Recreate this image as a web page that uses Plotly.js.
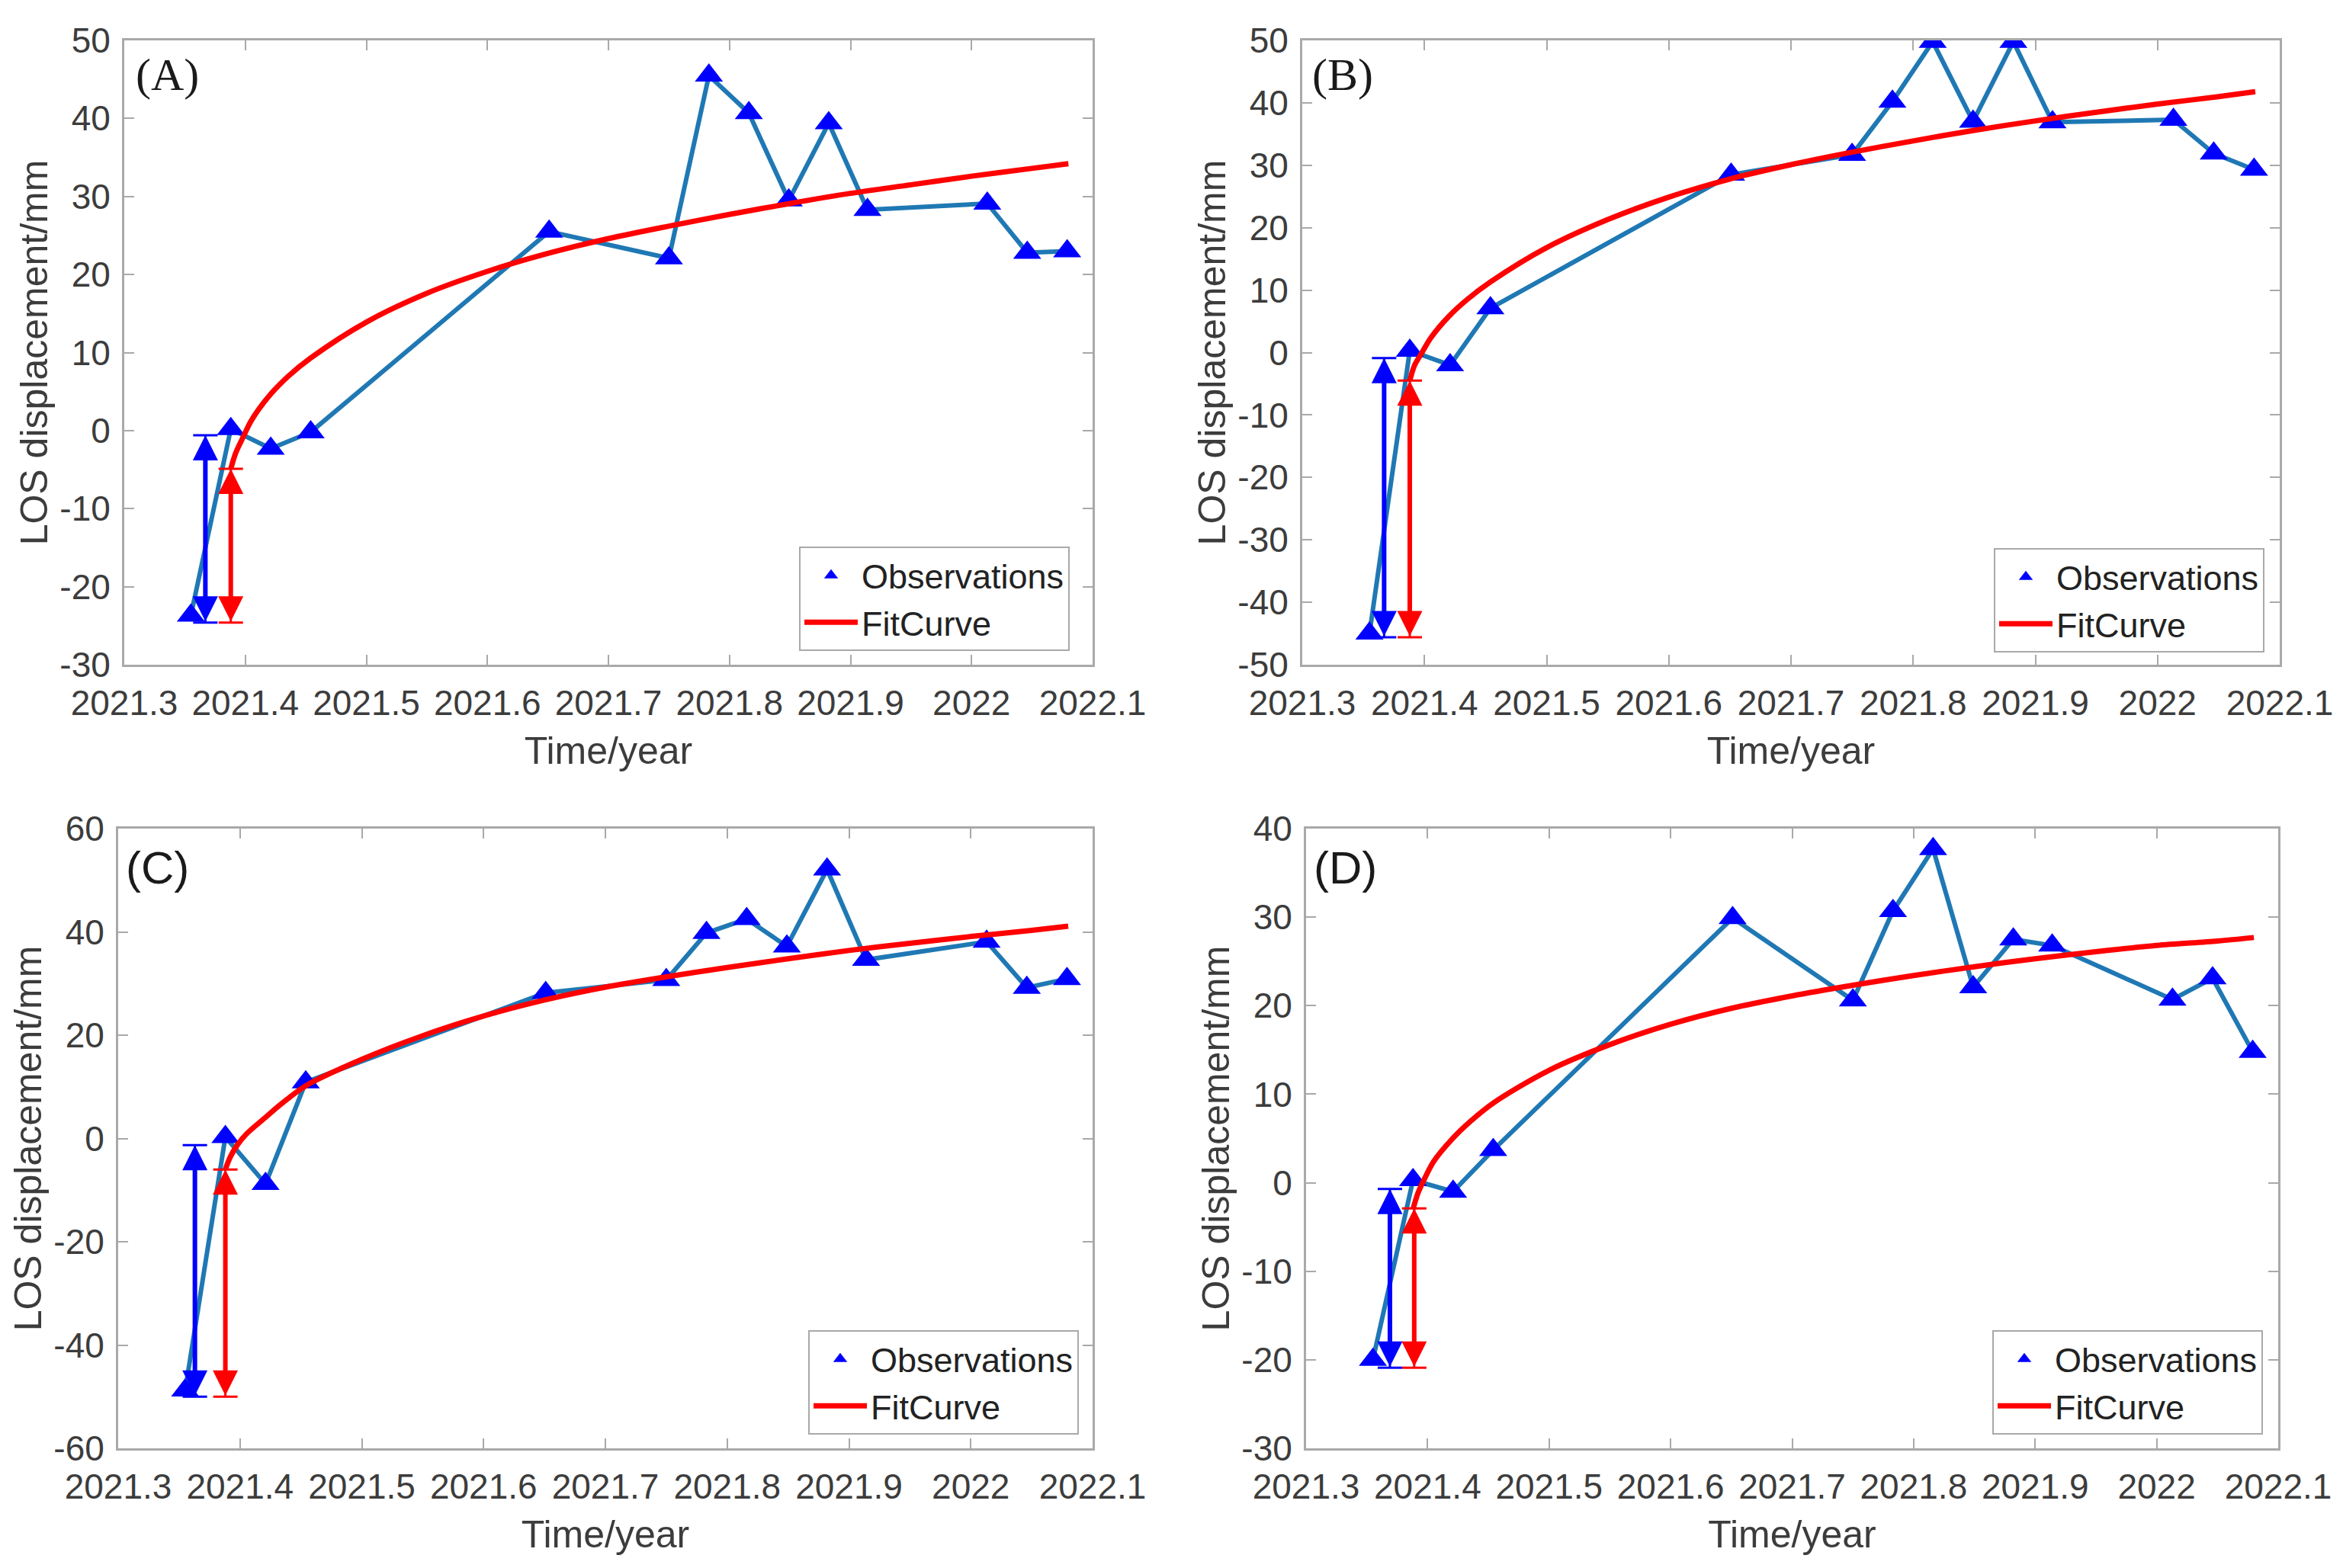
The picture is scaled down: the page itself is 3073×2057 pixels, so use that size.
<!DOCTYPE html>
<html>
<head>
<meta charset="utf-8">
<script src="https://cdn.plot.ly/plotly-3.0.1.min.js"></script>
<style>
  html, body { margin: 0; padding: 0; background: #ffffff; }
  #chart { width: 3073px; height: 2057px; }
</style>
</head>
<body>
<div id="chart"></div>
<script>
// ---------------- data ----------------
const panelLabels = ['(A)', '(B)', '(C)', '(D)'];

const timeYear = [2021.355, 2021.388, 2021.421, 2021.454, 2021.651, 2021.750, 2021.783,
                  2021.816, 2021.849, 2021.882, 2021.914, 2022.013, 2022.046, 2022.079];

const obsA = [-23.7, 0.2, -2.3, -0.2, 25.5, 22.1, 45.5, 40.7, 29.5, 39.4, 28.3, 29.1, 22.8, 23.0];
const obsB = [-45.0, 0.3, -2.0, 7.1, 28.5, 31.7, 40.2, 49.8, 37.0, 49.8, 36.9, 37.3, 31.9, 29.3];
const obsC = [-48.8, 0.3, -8.8, 10.9, 28.2, 30.7, 39.8, 42.5, 37.2, 52.1, 34.6, 38.1, 29.2, 30.9];
const obsD = [-20.0, 0.3, -1.0, 3.7, 29.9, 20.6, 30.7, 37.7, 22.1, 27.5, 26.8, 20.7, 23.1, 14.8];

const fitTime = [2021.388, 2021.392, 2021.398, 2021.405, 2021.420, 2021.435, 2021.454, 2021.500,
                 2021.550, 2021.600, 2021.650, 2021.700, 2021.750, 2021.800, 2021.850, 2021.900,
                 2021.950, 2022.000, 2022.050, 2022.080];

const fitA = [-4.9, -2.9, -0.9, 1.3, 4.5, 6.9, 9.3, 13.9, 17.6, 20.4, 22.7, 24.6, 26.2, 27.7, 29.1, 30.4, 31.5, 32.6, 33.6, 34.2];
const fitB = [-4.5, -2.0, 0.0, 2.3, 5.8, 8.5, 11.3, 16.8, 21.3, 24.9, 27.8, 30.1, 32.1, 33.9, 35.6, 37.1, 38.5, 39.8, 41.0, 41.8];
const fitC = [-6.0, -3.6, -1.2, 0.8, 3.9, 6.9, 10.2, 15.3, 19.9, 23.7, 26.8, 29.3, 31.3, 33.1, 34.8, 36.4, 37.8, 39.1, 40.3, 41.1];
const fitD = [-3.0, -1.2, 0.6, 2.4, 4.9, 6.9, 9.0, 12.7, 15.6, 17.9, 19.7, 21.1, 22.3, 23.4, 24.4, 25.3, 26.1, 26.8, 27.3, 27.7];

// vertical double arrows (blue and red) near the first acquisitions
const blueArrowX      = [2021.367, 2021.367, 2021.363, 2021.369];
const blueArrowTop    = [-0.6, -0.9, -1.3, -0.7];
const blueArrowBottom = [-24.6, -45.6, -50.0, -20.9];
const redArrowX       = [2021.388, 2021.388, 2021.388, 2021.389];
const redArrowTop     = [-4.9, -4.5, -6.0, -2.9];
const redArrowBottom  = [-24.6, -45.6, -50.0, -20.9];

const xTickVals = [2021.3, 2021.4, 2021.5, 2021.6, 2021.7, 2021.8, 2021.9, 2022.0, 2022.1];
const xTickText = ['2021.3', '2021.4', '2021.5', '2021.6', '2021.7', '2021.8', '2021.9', '2022', '2022.1'];

const yTickValsA = [-30, -20, -10, 0, 10, 20, 30, 40, 50];
const yTickValsB = [-50, -40, -30, -20, -10, 0, 10, 20, 30, 40, 50];
const yTickValsC = [-60, -40, -20, 0, 20, 40, 60];
const yTickValsD = [-30, -20, -10, 0, 10, 20, 30, 40];

const xTitle = 'Time/year';
const yTitle = 'LOS displacement/mm';
const obsName = 'Observations';
const fitName = 'FitCurve';

// ---------------- layout geometry (page pixels -> paper fractions) ----------------
const W = 3073, H = 2057;
const boxes = [
  {l: 163,  r: 1433, t: 53,   b: 872},
  {l: 1708, r: 2990, t: 53,   b: 872},
  {l: 155,  r: 1433, t: 1087, b: 1900},
  {l: 1713, r: 2988, t: 1087, b: 1900}
];
const legendPos = [
  {r: 1403, b: 854}, {r: 2970, b: 856}, {r: 1415, b: 1882}, {r: 2968, b: 1882}
];
const labelPos = [
  {x: 176, y: 98, serif: true}, {x: 1719, y: 98, serif: true},
  {x: 163, y: 1138, serif: false}, {x: 1721, y: 1138, serif: false}
];

const obsSets = [obsA, obsB, obsC, obsD];
const fitSets = [fitA, fitB, fitC, fitD];
const yTickSets = [yTickValsA, yTickValsB, yTickValsC, yTickValsD];

const AXIS_GREY = '#a9a9a9';
const TEXT_GREY = '#3c3c3c';
const SANS = 'Liberation Sans, Arial, Helvetica, sans-serif';
const SERIF = 'Liberation Serif, Times New Roman, serif';

const traces = [];
const layout = {
  width: W, height: H,
  margin: {l: 0, r: 0, t: 0, b: 0, pad: 0},
  paper_bgcolor: '#ffffff',
  plot_bgcolor: '#ffffff',
  showlegend: true,
  annotations: [],
  font: {family: SANS, color: TEXT_GREY}
};

function axisBase() {
  return {
    showline: true, linecolor: AXIS_GREY, linewidth: 3, mirror: 'ticks',
    ticks: 'inside', ticklen: 13, tickwidth: 2, tickcolor: AXIS_GREY,
    showgrid: false, zeroline: false, fixedrange: true,
    tickfont: {family: SANS, size: 46, color: TEXT_GREY}
  };
}

for (let i = 0; i < 4; i++) {
  const n = i === 0 ? '' : String(i + 1);
  const xa = 'x' + n, ya = 'y' + n;
  const legendId = 'legend' + n;
  const bx = boxes[i];
  const yt = yTickSets[i];

  const xax = axisBase();
  Object.assign(xax, {
    domain: [bx.l / W, bx.r / W],
    range: [2021.3, 2022.1],
    tickmode: 'array', tickvals: xTickVals, ticktext: xTickText,
    anchor: ya,
    ticklabelstandoff: 8,
    title: {text: xTitle, font: {family: SANS, size: 50, color: TEXT_GREY}, standoff: 20}
  });
  const yax = axisBase();
  Object.assign(yax, {
    domain: [1 - bx.b / H, 1 - bx.t / H],
    range: [yt[0], yt[yt.length - 1]],
    tickmode: 'array', tickvals: yt, ticktext: yt.map(v => String(v)),
    anchor: xa,
    ticklabelstandoff: 6,
    title: {text: yTitle, font: {family: SANS, size: 50, color: TEXT_GREY}, standoff: 0}
  });
  layout['xaxis' + n] = xax;
  layout['yaxis' + n] = yax;

  layout[legendId] = {
    x: legendPos[i].r / W, y: 1 - legendPos[i].b / H,
    xanchor: 'right', yanchor: 'bottom',
    bgcolor: '#ffffff', bordercolor: AXIS_GREY, borderwidth: 2,
    font: {family: SANS, size: 45, color: '#222222'},
    itemwidth: 70, tracegroupgap: 2, itemclick: false, itemdoubleclick: false
  };

  // connecting line of observations
  traces.push({
    type: 'scatter', mode: 'lines', x: timeYear, y: obsSets[i],
    xaxis: xa, yaxis: ya, showlegend: false, hoverinfo: 'skip',
    line: {color: '#1f78b4', width: 6}
  });
  // observation markers
  traces.push({
    type: 'scatter', mode: 'markers', name: obsName, x: timeYear, y: obsSets[i],
    xaxis: xa, yaxis: ya, legend: legendId,
    marker: {symbol: 'triangle-up', size: 32, color: '#0000ff', line: {width: 0}}
  });
  // fitted curve
  traces.push({
    type: 'scatter', mode: 'lines', name: fitName, x: fitTime, y: fitSets[i],
    xaxis: xa, yaxis: ya, legend: legendId,
    line: {color: '#ff0000', width: 7, shape: 'spline', smoothing: 0.9}
  });

  // caps of the two double arrows (error-bar cross bars)
  const capPairs = [
    {x: blueArrowX[i], top: blueArrowTop[i], bot: blueArrowBottom[i], c: '#0000ff'},
    {x: redArrowX[i],  top: redArrowTop[i],  bot: redArrowBottom[i],  c: '#ff0000'}
  ];
  capPairs.forEach(cp => {
    traces.push({
      type: 'scatter', mode: 'markers', x: [cp.x], y: [cp.bot],
      xaxis: xa, yaxis: ya, showlegend: false, hoverinfo: 'skip',
      marker: {size: 2, opacity: 0, color: cp.c},
      error_y: {type: 'data', symmetric: false, array: [cp.top - cp.bot], arrayminus: [0],
                color: cp.c, thickness: 3, width: 16}
    });
    layout.annotations.push({
      xref: xa, yref: ya, axref: xa, ayref: ya,
      x: cp.x, y: cp.top, ax: cp.x, ay: cp.bot,
      text: '', showarrow: true, arrowside: 'end+start',
      arrowhead: 2, arrowsize: 1.1, arrowwidth: 6, arrowcolor: cp.c,
      standoff: 0, startstandoff: 0
    });
  });

  // panel label
  layout.annotations.push({
    xref: 'paper', yref: 'paper', x: labelPos[i].x / W, y: 1 - labelPos[i].y / H,
    xanchor: 'left', yanchor: 'middle', showarrow: false,
    text: panelLabels[i],
    font: {family: labelPos[i].serif ? SERIF : SANS, size: 60, color: '#1a1a1a'}
  });
}

Plotly.newPlot('chart', traces, layout, {displayModeBar: false, staticPlot: true});
</script>
</body>
</html>
